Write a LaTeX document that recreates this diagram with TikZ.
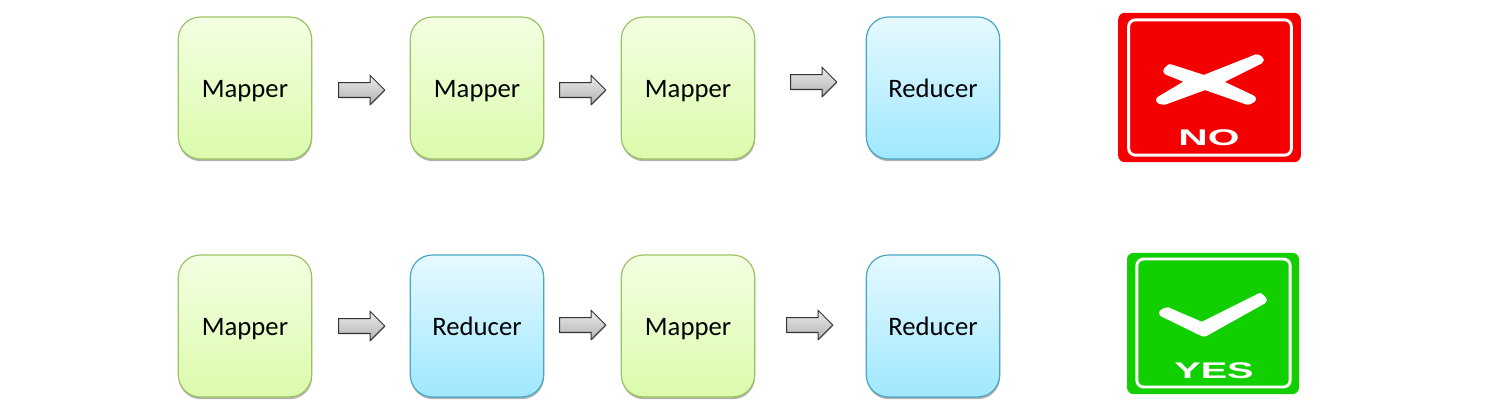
\documentclass[tikz,border=0pt]{standalone}
\usepackage{fontspec}
\setmainfont{Carlito}
\newfontfamily\signfont{Liberation Sans}[Scale=1]
\usetikzlibrary{shapes.arrows,shadows}
\definecolor{mapperline}{HTML}{9DC265}
\definecolor{reducerline}{HTML}{4BA6C4}
\definecolor{nored}{HTML}{F50000}
\definecolor{yesgreen}{HTML}{12CF00}
\tikzset{
  taskbox/.style={draw, line width=0.9pt, rectangle, rounded corners=16.5pt, minimum width=100pt, minimum height=106.5pt, inner sep=0pt,
    text height=16pt, text depth=2.5pt, font=\fontsize{20pt}{22pt}\selectfont,
    drop shadow={shadow xshift=0.3pt, shadow yshift=-1.6pt, opacity=0.3, fill=black}},
  mapperbox/.style={taskbox, mapperline, text=black, top color=mapperlight, bottom color=mapperdark},
  reducerbox/.style={taskbox, reducerline, text=black, top color=reducerlight, bottom color=reducerdark},
  blockarrow/.style={draw=black!80, line width=0.7pt, single arrow, minimum height=34.5pt, single arrow head extend=5.4pt,
    inner xsep=0pt, inner ysep=5.2pt, top color=black!8, bottom color=black!30,
    drop shadow={shadow xshift=0.5pt, shadow yshift=-0.7pt, opacity=0.3, fill=black}},
  signplate/.style={rectangle, rounded corners=5pt, inner sep=0pt},
  signframe/.style={draw=white, line width=2.2pt, rectangle, rounded corners=5pt, inner sep=0pt},
  signtext/.style={text=white, inner sep=0pt, font=\signfont\bfseries\fontsize{17pt}{17pt}\selectfont},
  signmark/.style={fill=white, draw=white, line width=5.8pt, line join=round},
}
\definecolor{mapperlight}{HTML}{F3FFE2}
\definecolor{mapperdark}{HTML}{DBFBAC}
\definecolor{reducerlight}{HTML}{E6F9FF}
\definecolor{reducerdark}{HTML}{9FE8FF}
\begin{document}
\begin{tikzpicture}[x=0.75pt, y=-0.75pt]
\useasboundingbox (0,0) rectangle (1505,408);
% Top row
\node[mapperbox] (mapa) at (245,88) {Mapper};
\node[mapperbox] (mapb) at (477,88) {Mapper};
\node[mapperbox] (mapc) at (688,88) {Mapper};
\node[reducerbox] (reda) at (933,88) {Reducer};
\node[blockarrow] (arra) at (358,90) {};
\node[blockarrow] (arrb) at (579,90) {};
\node[blockarrow] (arrc) at (810,82) {};

% Bottom row
\node[mapperbox] (mapd) at (245,326) {Mapper};
\node[reducerbox] (redb) at (477,326) {Reducer};
\node[mapperbox] (mape) at (688,326) {Mapper};
\node[reducerbox] (redc) at (933,326) {Reducer};
\node[blockarrow] (arrd) at (358,326) {};
\node[blockarrow] (arre) at (579,325) {};
\node[blockarrow] (arrf) at (806,325) {};

% No sign
\node[signplate, fill=nored, minimum width=137pt, minimum height=112pt] (noplate) at (1209.5,87.5) {};
\node[signframe, minimum width=122pt, minimum height=101.5pt] (noframe) at (1210,87.5) {};
\path[signmark] (1167,71) -- (1170,68) -- (1204,79) -- (1257,58) -- (1260,60) -- (1216,82) -- (1252,99) -- (1248,101)
  -- (1205,86) -- (1164,101) -- (1160,100) -- (1192,81) -- cycle;
\node[signtext] (notext) at (1209,138) {\scalebox{1.8}[1]{NO}};

% Yes sign
\node[signplate, fill=yesgreen, minimum width=129pt, minimum height=106pt] (yesplate) at (1213,323.5) {};
\node[signframe, minimum width=115pt, minimum height=96pt] (yesframe) at (1213.5,323) {};
\path[signmark] (1163,313) -- (1167,311) -- (1202,326) -- (1260,297) -- (1263,300) -- (1204,333) -- cycle;
\node[signtext] (yestext) at (1214,371) {\scalebox{1.75}[1]{YES}};

\end{tikzpicture}
\end{document}
